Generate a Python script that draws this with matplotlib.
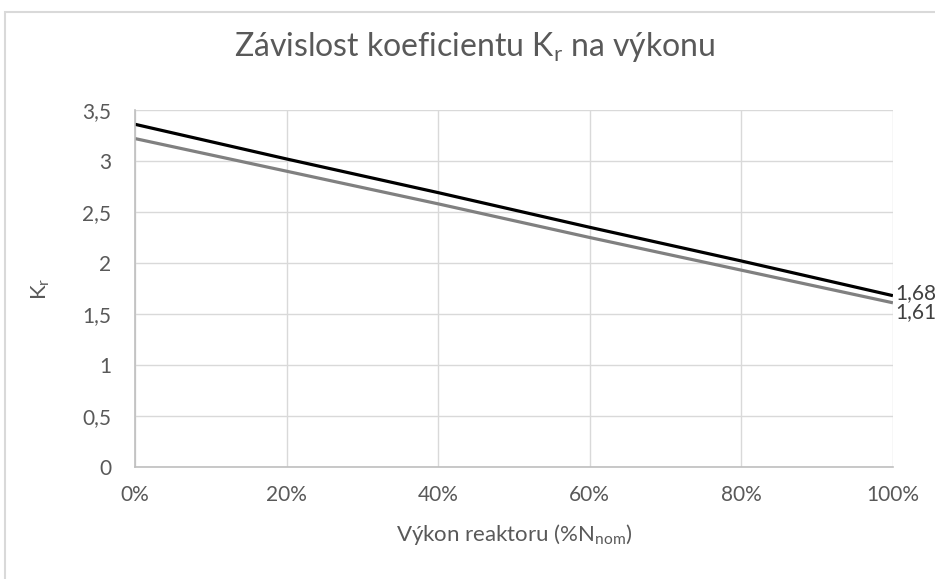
import matplotlib
matplotlib.use("Agg")
import matplotlib.pyplot as plt
from matplotlib.patches import Rectangle
from matplotlib.ticker import FuncFormatter

plt.rcParams['font.family'] = ['Lato', 'DejaVu Sans']
plt.rcParams['mathtext.default'] = 'regular'

# ---------- DATA ----------
power_pct = [0, 20, 40, 60, 80, 100]
kr_black = [3.36, 3.02, 2.69, 2.35, 2.02, 1.68]
kr_gray = [3.22, 2.90, 2.58, 2.25, 1.93, 1.61]
y_ticks = [0, 0.5, 1, 1.5, 2, 2.5, 3, 3.5]
x_ticks = [0, 20, 40, 60, 80, 100]
# --------------------------

TEXT = '#595959'
GRID = '#d9d9d9'

fig = plt.figure(figsize=(9.35, 5.79), dpi=100)
ax = fig.add_axes([0.1444, 0.1934, 0.8106, 0.6166])

# light chart border (only top/left visible in the crop)
fig.patches.append(Rectangle((5 / 935, -0.1), 1.2, 1 - 12 / 579 + 0.1,
                             transform=fig.transFigure, fill=False,
                             edgecolor=GRID, linewidth=1.5))

ax.plot(power_pct, kr_gray, color='#808080', linewidth=2.3, solid_capstyle='butt')
ax.plot(power_pct, kr_black, color='black', linewidth=2.3, solid_capstyle='butt')

ax.set_xlim(0, 100)
ax.set_ylim(0, 3.5)
ax.set_xticks(x_ticks)
ax.set_yticks(y_ticks)
ax.xaxis.set_major_formatter(FuncFormatter(lambda v, p: f"{v:.0f}%"))
ax.yaxis.set_major_formatter(FuncFormatter(lambda v, p: f"{v:g}".replace('.', ',')))

ax.grid(True, color=GRID, linewidth=1)
ax.set_axisbelow(True)
for side in ['top', 'right']:
    ax.spines[side].set_visible(False)
for side in ['left', 'bottom']:
    ax.spines[side].set_color('#bfbfbf')
    ax.spines[side].set_linewidth(1.2)
ax.tick_params(length=0, labelsize=15, labelcolor=TEXT)
ax.tick_params(axis='y', pad=17)
ax.tick_params(axis='x', pad=13)

# data labels at the last point (clipped by figure edge as in the original)
ax.annotate(f"{kr_black[-1]:.2f}".replace('.', ','), (power_pct[-1], kr_black[-1]),
            xytext=(2, 2), textcoords='offset points', va='center', ha='left',
            fontsize=15, color='#404040', annotation_clip=False)
ax.annotate(f"{kr_gray[-1]:.2f}".replace('.', ','), (power_pct[-1], kr_gray[-1]),
            xytext=(2, -7), textcoords='offset points', va='center', ha='left',
            fontsize=15, color='#404040', annotation_clip=False)

fig.text(0.508, 0.918, r'Závislost koeficientu K$_{r}$ na výkonu',
         ha='center', va='center', fontsize=23, color=TEXT)
ax.set_xlabel(r'Výkon reaktoru (%N$_{nom}$)', fontsize=16, color=TEXT, labelpad=12)
ax.set_ylabel(r'K$_{r}$', fontsize=16, color=TEXT, labelpad=22)

fig.savefig('out.png', dpi=100)
